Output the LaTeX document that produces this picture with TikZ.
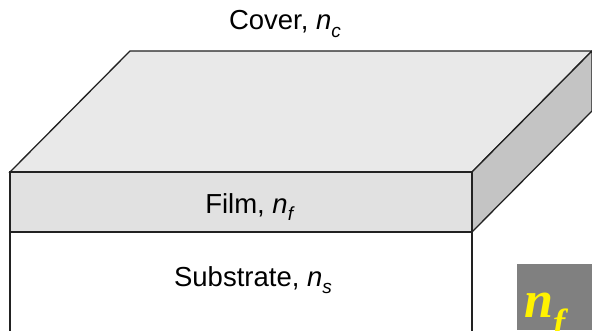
\documentclass[tikz,border=0pt]{standalone}
\usepackage{fontspec}
\setmainfont{Liberation Sans}
\newfontfamily\symbfont{Liberation Serif}

\definecolor{topface}{HTML}{E9E9E9}
\definecolor{filmface}{HTML}{E1E1E1}
\definecolor{sideface}{HTML}{C4C4C4}
\definecolor{slabline}{HTML}{222222}

% refractive index with an italic subscript
\newcommand{\refidx}[1]{\textit{n}\raisebox{-0.28em}{\fontsize{19}{19}\selectfont\textit{#1}}}

\tikzset{
    layer/.style={draw=slabline, line width=1.3pt, line join=miter},
    layerlabel/.style={anchor=base, inner sep=0pt,
        font=\fontsize{27.5}{32}\selectfont},
}

\begin{document}
\begin{tikzpicture}[x=1pt, y=1pt]
    \def\slabL{10}
    \def\slabR{472}
    \def\filmTop{158}
    \def\filmBot{98}
    \def\depthX{120}
    \def\depthY{121}

    \useasboundingbox (0,0) rectangle (592,330);
    \clip (0,0) rectangle (592,330);

    % corners of the slab
    \coordinate (fl) at (\slabL,\filmTop);
    \coordinate (fr) at (\slabR,\filmTop);
    \coordinate (br) at (\slabR+\depthX,\filmTop+\depthY);
    \coordinate (bl) at (\slabL+\depthX,\filmTop+\depthY);
    \coordinate (fbr) at (\slabR,\filmBot);
    \coordinate (fbl) at (\slabL,\filmBot);

    % substrate, open at the bottom
    \draw[layer] (fbl) -- (\slabL,-5);
    \draw[layer] (fbr) -- (\slabR,-5);

    % film: top, front and side faces
    \filldraw[layer, fill=topface] (fl) -- (fr) -- (br) -- (bl) -- cycle;
    \filldraw[layer, fill=sideface] (fr) -- (br) -- ++(0,\filmBot-\filmTop) -- (fbr) -- cycle;
    \filldraw[layer, fill=filmface] (fbl) rectangle (fr);

    \node[layerlabel] (cover) at (285,300) {Cover, \refidx{c}};
    \node[layerlabel] (film) at (250,117) {Film, \refidx{f}};
    \node[layerlabel] (substrate) at (253,44) {Substrate, \refidx{s}};

    % index tag
    \fill[gray] (517,0) rectangle (600,66);
    \node[anchor=base west, inner sep=0pt, text=yellow,
        font=\symbfont\bfseries\itshape\fontsize{52}{52}\selectfont]
        (nf) at (524,13) {n\textsubscript{f}};
\end{tikzpicture}
\end{document}
